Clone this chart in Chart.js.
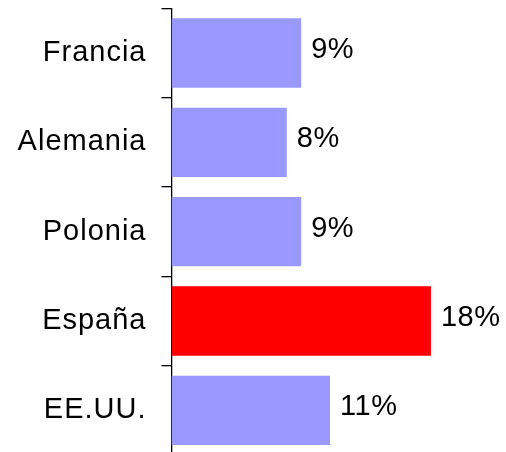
<!DOCTYPE html>
<html>
<head>
<meta charset="utf-8">
<script src="https://cdn.jsdelivr.net/npm/chart.js@4"></script>
<style>
html,body{margin:0;padding:0;background:#fff;overflow:hidden;}
#wrap{width:506px;height:455px;}
</style>
</head>
<body>
<div id="wrap"><canvas id="c" width="506" height="455"></canvas></div>
<script>
const categories = ["Francia", "Alemania", "Polonia", "España", "EE.UU."];
const values = [9, 8, 9, 18, 11];
const valueLabels = ["9%", "8%", "9%", "18%", "11%"];
const barColors = ["#9999FF", "#9999FF", "#9999FF", "#FF0000", "#9999FF"];

const FONT = "'Liberation Sans', Arial, sans-serif";

const spacingPlugin = {
  id: 'spacing',
  beforeDraw(chart) {
    if ('letterSpacing' in chart.ctx) chart.ctx.letterSpacing = '1px';
  }
};

const valueLabelPlugin = {
  id: 'valueLabels',
  afterDatasetsDraw(chart) {
    const ctx = chart.ctx;
    const meta = chart.getDatasetMeta(0);
    ctx.save();
    if ('letterSpacing' in ctx) ctx.letterSpacing = '0.5px';
    ctx.font = "29px " + FONT;
    ctx.fillStyle = "#000";
    ctx.textAlign = "left";
    ctx.textBaseline = "middle";
    meta.data.forEach((bar, i) => {
      ctx.fillText(valueLabels[i], bar.x + 10, bar.y - 3);
    });
    ctx.restore();
  }
};

new Chart(document.getElementById('c'), {
  type: 'bar',
  data: {
    labels: categories,
    datasets: [{
      data: values,
      backgroundColor: barColors,
      borderWidth: 0,
      barPercentage: 0.776,
      categoryPercentage: 1
    }]
  },
  options: {
    indexAxis: 'y',
    responsive: false,
    animation: false,
    layout: { padding: { top: 8.3, right: 3, left: 0, bottom: 0 } },
    plugins: { legend: { display: false }, tooltip: { enabled: false } },
    scales: {
      x: {
        display: false,
        min: 0,
        max: 23
      },
      y: {
        offset: true,
        afterFit(scale) {
          scale.width = 171.5;
          scale.paddingTop = 0;
          scale.paddingBottom = 0;
        },
        border: { display: true, color: '#000', width: 1.3 },
        grid: {
          display: true,
          offset: true,
          drawOnChartArea: false,
          drawTicks: true,
          tickLength: 10,
          color: '#000',
          lineWidth: 1.3
        },
        ticks: {
          color: '#000',
          padding: 15,
          font: { family: FONT, size: 29 }
        }
      }
    }
  },
  plugins: [spacingPlugin, valueLabelPlugin]
});
</script>
</body>
</html>
